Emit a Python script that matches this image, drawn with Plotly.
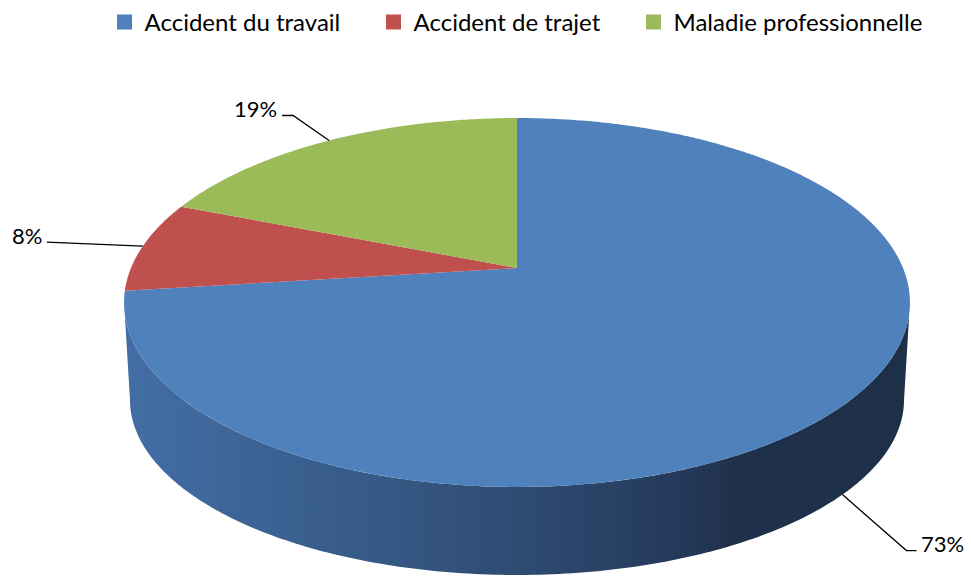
import numpy as np
import plotly.graph_objects as go

# ---- data ----
categories = ["Accident du travail", "Accident de trajet", "Maladie professionnelle"]
values = [73, 8, 19]
label_texts = ["73%", "8%", "19%"]

# ---- style ----
colors = ["#4F81BD", "#C0504D", "#9BBB59"]
W, H = 971, 578
CX, CY = 517, 268          # projected pie centre (pixels)
A, B, K = 386, 178, 0.187  # perspective ellipse parameters
DEPTH, SX2, SY2 = 99, 0.985, 0.95  # bottom-disk offset / scale
FONT = "Lato"
legend_x_px = [104.5, 373.5, 633.5]   # left edge of each legend entry
# label leader offsets: (elbow dx, dy from anchor), tick length, side
leader = {
    "73%": dict(dx=64, dy=56, tick=10, side="right", on_side=True),
    "8%": dict(dx=-96, dy=-4, tick=0, side="left", on_side=False),
    "19%": dict(dx=-36, dy=-25, tick=-11, side="left", on_side=False),
}


def proj(theta_deg, bottom=False):
    t = np.radians(np.asarray(theta_deg, dtype=float))
    X, Y = np.sin(t), np.cos(t)
    w = 1 + K * Y
    sx, sy, dy = (SX2, SY2, DEPTH) if bottom else (1.0, 1.0, 0.0)
    return CX + A * sx * X / w, CY + dy - B * sy * Y / w


total = float(sum(values))
starts = np.cumsum([0] + values[:-1]) / total * 360
ends = np.cumsum(values) / total * 360

fig = go.Figure()

# ---- side wall (visible front part, blue slice) ----
t_sil = np.degrees(np.arccos(-K))
arc = np.linspace(t_sil, 360 - t_sil, 200)
xt, yt = proj(arc)
xb, yb = proj(arc[::-1], bottom=True)
fig.add_trace(go.Scatter(
    x=np.concatenate([xt, xb]), y=np.concatenate([yt, yb]),
    fill="toself", mode="none", showlegend=False, hoverinfo="skip",
    fillgradient=dict(type="horizontal",
                      colorscale=[[0, "#436EA5"], [0.25, "#395E8D"],
                                  [0.51, "#2E4B72"], [0.71, "#24395A"],
                                  [0.78, "#1F304A"], [1, "#1E2F48"]]),
))

# ---- top face slices ----
for cat, v, c, s, e in zip(categories, values, colors, starts, ends):
    th = np.linspace(s, e, max(int((e - s) * 2), 4))
    px, py = proj(th)
    xs = np.concatenate([[CX], px, [CX]])
    ys = np.concatenate([[CY], py, [CY]])
    fig.add_trace(go.Scatter(
        x=xs, y=ys, fill="toself", fillcolor=c, mode="none",
        name=cat, showlegend=False, hoverinfo="text",
        text=f"{cat}: {v}%",
    ))

# ---- legend entries (one legend per entry for exact spacing) ----
legend_layouts = {}
for i, (cat, c) in enumerate(zip(categories, colors)):
    lname = "legend" if i == 0 else f"legend{i + 1}"
    fig.add_trace(go.Scatter(
        x=[None], y=[None], mode="markers", name=cat, legend=lname,
        marker=dict(symbol="square", size=15, color=c),
    ))
    legend_layouts[lname] = dict(
        orientation="h", x=legend_x_px[i] / W, xanchor="left",
        y=1.0, yanchor="top", itemwidth=30,
        font=dict(family=FONT, size=24, color="black"),
        bgcolor="rgba(0,0,0,0)",
    )

# ---- labels with leader lines ----
annotations = []
for lbl, s, e in zip(label_texts, starts, ends):
    mid = (s + e) / 2
    cfg = leader[lbl]
    ax, ay = proj(mid, bottom=cfg["on_side"])
    ax, ay = float(ax), float(ay)
    ex, ey = ax + cfg["dx"], ay + cfg["dy"]
    tx = ex + cfg["tick"]
    fig.add_trace(go.Scatter(
        x=[ax, ex, tx], y=[ay, ey, ey], mode="lines",
        line=dict(color="black", width=1.3), showlegend=False, hoverinfo="skip",
    ))
    if cfg["side"] == "right":
        annotations.append(dict(x=tx + 3, y=ey - 7, text=lbl, xanchor="left",
                                yanchor="middle", showarrow=False,
                                font=dict(family=FONT, size=22, color="black")))
    else:
        annotations.append(dict(x=tx - 3, y=ey - 7, text=lbl, xanchor="right",
                                yanchor="middle", showarrow=False,
                                font=dict(family=FONT, size=22, color="black")))

fig.update_layout(
    width=W, height=H, margin=dict(l=0, r=0, t=0, b=0),
    paper_bgcolor="white", plot_bgcolor="white",
    xaxis=dict(range=[0, W], visible=False, fixedrange=True),
    yaxis=dict(range=[H, 0], visible=False, fixedrange=True),
    showlegend=True,
    annotations=annotations,
    font=dict(family=FONT),
    **legend_layouts,
)

fig.write_html("out.html",
               config={"displayModeBar": False},
               post_script="document.body.style.margin='0';"
                           "document.body.style.overflow='hidden';")
